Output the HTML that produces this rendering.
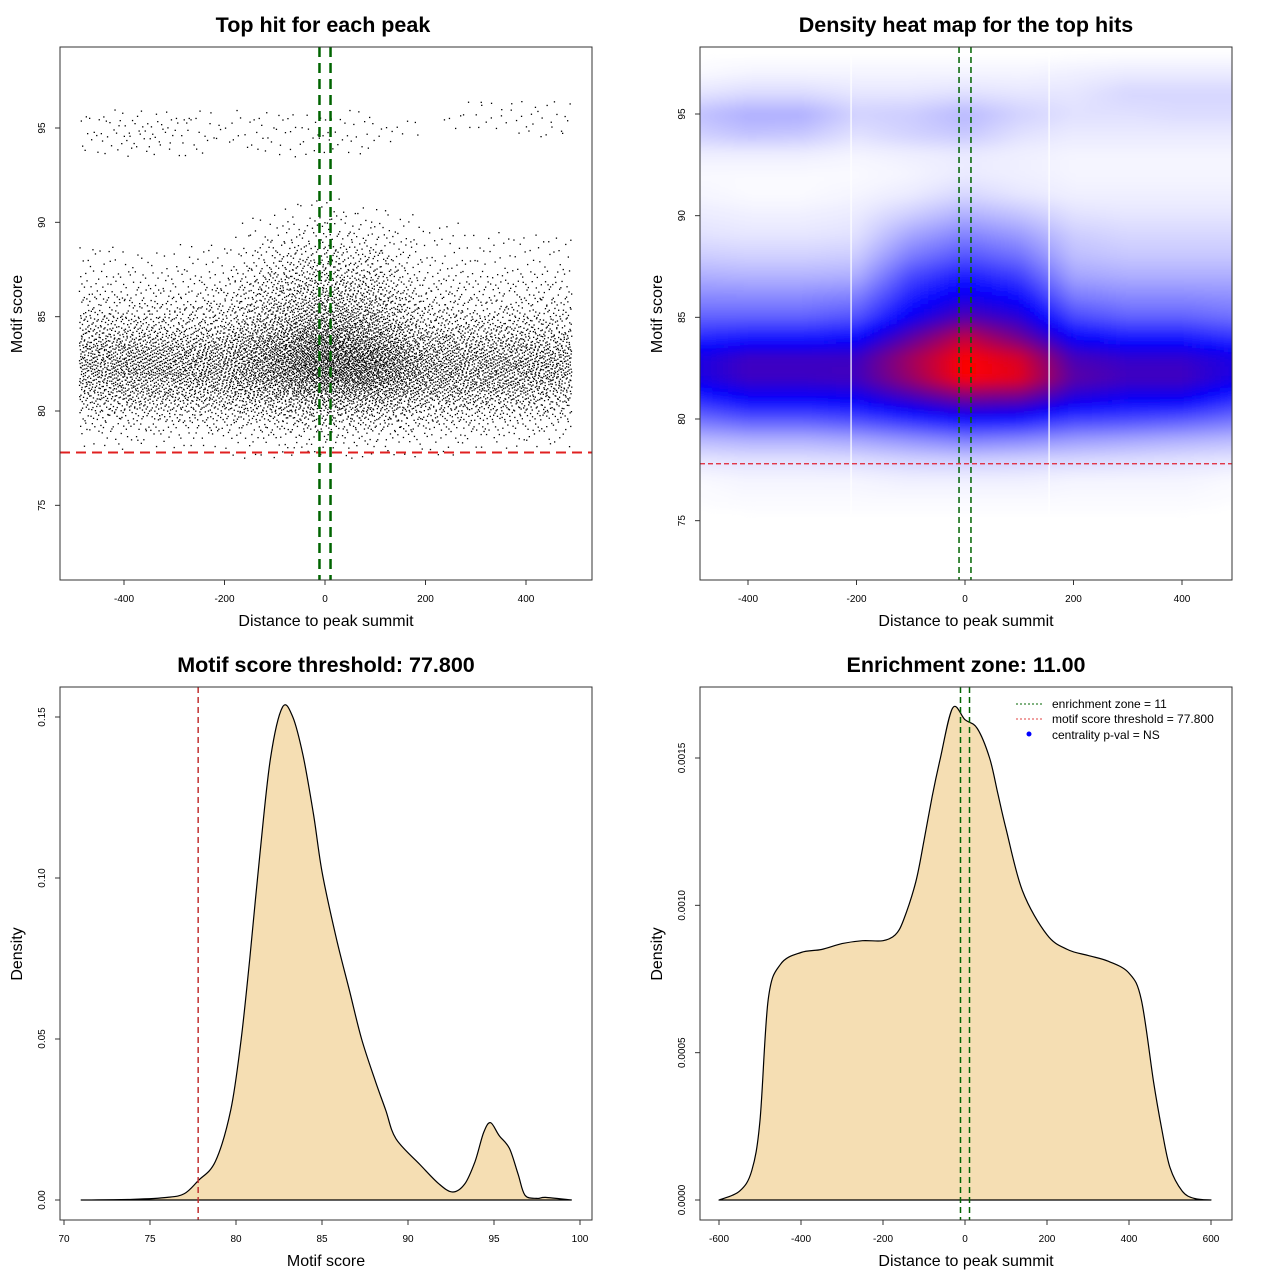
<!DOCTYPE html>
<html><head><meta charset="utf-8"><style>
body{margin:0;background:#fff}
svg text{font-family:"Liberation Sans",sans-serif}
</style></head><body>
<svg id="s" width="1280" height="1280" viewBox="0 0 1280 1280" xmlns="http://www.w3.org/2000/svg">
<defs><filter id="bl" x="-5%" y="-5%" width="110%" height="110%"><feGaussianBlur stdDeviation="5"/></filter>
<clipPath id="c2"><rect x="700" y="47" width="532" height="533"/></clipPath></defs>
</svg>
<script>
// ---- data ----
const gridX = [-500,-400,-300,-200,-100,0,100,200,300,400,500];
const gridY = [98,97,96,95,94,93,92,91,90,89,88,87,86,85,84,83,82,81,80,79,78,77,76,75,74,73,72];
const densityGrid = [
[0,0,0,0,0,0,0,0,0,0,0],
[.01,.02,.02,.02,.02,.02,.02,.03,.04,.04,.04],
[.05,.07,.07,.05,.05,.06,.05,.05,.08,.08,.08],
[.12,.16,.16,.09,.1,.14,.09,.06,.06,.07,.07],
[.09,.12,.11,.06,.09,.11,.06,.04,.04,.04,.04],
[.03,.03,.03,.02,.03,.04,.03,.02,.02,.02,.02],
[.01,.01,.01,.01,.02,.04,.03,.02,.02,.02,.02],
[.02,.01,.01,.02,.04,.08,.05,.03,.03,.03,.03],
[.04,.03,.03,.04,.1,.16,.12,.06,.05,.05,.05],
[.06,.05,.05,.06,.18,.25,.2,.1,.08,.08,.08],
[.1,.09,.09,.1,.26,.34,.28,.13,.11,.11,.11],
[.16,.15,.15,.16,.36,.45,.38,.18,.16,.16,.16],
[.23,.23,.23,.25,.44,.54,.48,.26,.23,.23,.22],
[.31,.31,.31,.34,.52,.66,.58,.36,.31,.31,.28],
[.42,.45,.45,.48,.68,.88,.72,.5,.45,.45,.4],
[.55,.62,.62,.62,.82,1.0,.92,.64,.6,.6,.55],
[.55,.62,.62,.63,.8,1.0,.95,.68,.63,.63,.55],
[.42,.5,.5,.52,.62,.72,.7,.56,.52,.52,.42],
[.28,.33,.33,.36,.42,.48,.46,.38,.36,.33,.28],
[.14,.16,.16,.18,.22,.26,.24,.2,.18,.16,.14],
[.05,.06,.06,.07,.09,.1,.09,.08,.07,.06,.05],
[.01,.02,.02,.02,.03,.03,.03,.02,.02,.02,.01],
[.005,.01,.01,.01,.01,.01,.01,.01,.01,.01,.005],
[0,0,0,0,0,0,0,0,0,0,0],
[0,0,0,0,0,0,0,0,0,0,0],
[0,0,0,0,0,0,0,0,0,0,0],
[0,0,0,0,0,0,0,0,0,0,0]];
const scoreX = [71,74,76,77,77.8,78.8,79.7,80.3,80.8,81.4,82,82.7,83.3,83.9,84.5,85,85.8,86.6,87.3,88.1,88.7,89.3,90.7,91.8,92.6,93.3,93.9,94.4,94.8,95.3,95.9,96.4,96.8,97.5,98,99.5];
const scoreD = [0,0.0002,0.0008,0.002,0.006,0.012,0.028,0.05,0.075,0.108,0.137,0.153,0.15,0.138,0.12,0.102,0.082,0.065,0.05,0.037,0.028,0.019,0.011,0.005,0.0025,0.005,0.012,0.021,0.024,0.02,0.016,0.008,0.0015,0.0005,0.0008,0];
const distX = [-600,-550,-520,-500,-480,-450,-400,-350,-300,-250,-200,-170,-150,-120,-100,-80,-60,-30,0,30,60,80,100,140,200,250,300,350,400,430,460,480,500,530,560,600];
const distD = [0,0.00003,0.0001,0.00027,0.00068,0.0008,0.00084,0.00085,0.00087,0.00088,0.00088,0.0009,0.00095,0.00108,0.00122,0.00137,0.0015,0.00167,0.00163,0.0016,0.0015,0.00138,0.00126,0.00105,0.0009,0.00085,0.00083,0.00081,0.00077,0.00068,0.0004,0.00024,0.00011,0.00003,0.000005,0];
const threshold = 77.8, zone = 11;
const ticks1X=[-400,-200,0,200,400], ticks1Y=[75,80,85,90,95];
const ticks3X=[70,75,80,85,90,95,100], ticks3Y=[0,0.05,0.10,0.15], ticks3YL=["0.00","0.05","0.10","0.15"];
const ticks4X=[-600,-400,-200,0,200,400,600], ticks4Y=[0,0.0005,0.001,0.0015], ticks4YL=["0.0000","0.0005","0.0010","0.0015"];

// ---- helpers ----
const S=document.getElementById('s'), NS='http://www.w3.org/2000/svg';
function mk(t,a,p){const e=document.createElementNS(NS,t);for(const k in a)e.setAttribute(k,a[k]);(p||S).appendChild(e);return e;}
function lin(d0,d1,r0,r1){return v=>r0+(v-d0)*(r1-r0)/(d1-d0);}
function dens(x,y){
  let ci=(x-gridX[0])/100, ri=(gridY[0]-y);
  ci=Math.max(0,Math.min(gridX.length-1.0001,ci)); ri=Math.max(0,Math.min(gridY.length-1.0001,ri));
  const c=Math.floor(ci),r=Math.floor(ri),fx=ci-c,fy=ri-r,g=densityGrid;
  return g[r][c]*(1-fx)*(1-fy)+g[r][c+1]*fx*(1-fy)+g[r+1][c]*(1-fx)*fy+g[r+1][c+1]*fx*fy;
}
function halton(i,b){let f=1,r=0;while(i>0){f/=b;r+=f*(i%b);i=Math.floor(i/b);}return r;}
function smooth(pts){let d='M'+pts[0][0].toFixed(1)+','+pts[0][1].toFixed(1);
  for(let i=0;i<pts.length-1;i++){const p0=pts[Math.max(0,i-1)],p1=pts[i],p2=pts[i+1],p3=pts[Math.min(pts.length-1,i+2)];
    const c1=[p1[0]+(p2[0]-p0[0])/6,p1[1]+(p2[1]-p0[1])/6],c2=[p2[0]-(p3[0]-p1[0])/6,p2[1]-(p3[1]-p1[1])/6];
    d+=` C${c1[0].toFixed(1)},${c1[1].toFixed(1)} ${c2[0].toFixed(1)},${c2[1].toFixed(1)} ${p2[0].toFixed(1)},${p2[1].toFixed(1)}`;}
  return d;}
function frame(x,y,w,h,name){const r=mk('rect',{x:x,y:y,width:w,height:h,fill:'none',stroke:'#333','stroke-width':1});}
function txt(x,y,s,size,opts){const t=mk('text',Object.assign({x:x,y:y,'font-size':size,'text-anchor':'middle',fill:'#000'},opts||{}));t.textContent=s;return t;}
function axes(X,Y,x0,y0,x1,y1,tx,ty,tyl,name){
  const g=mk('g',{});
  tx.forEach(v=>{mk('line',{x1:X(v),x2:X(v),y1:y1,y2:y1+5,stroke:'#333'},g);const t=txt(X(v),y1+22,String(v),10);g.appendChild(t);});
  ty.forEach((v,i)=>{mk('line',{x1:x0-5,x2:x0,y1:Y(v),y2:Y(v),stroke:'#333'},g);const t=txt(0,0,tyl?tyl[i]:String(v),10,{transform:`translate(${x0-15},${Y(v)}) rotate(-90)`});g.appendChild(t);});
}
function title(x,y,s,n){const t=txt(x,y,s,21.5,{'font-weight':'bold'});}
function lab(x,y,s,n,rot){const t=txt(rot?0:x,rot?0:y,s,16,rot?{transform:`translate(${x},${y}) rotate(-90)`}:{});}

// ---- Panel 1: scatter ----
{
const X=lin(0,400,325,526), Y=lin(95,80,128,411);
const g=mk('g',{fill:'#000'});
let idx=1;
for(let xi=-490;xi<490;xi+=20){for(let yi=72;yi<98.5;yi+=0.5){
  const d=dens(xi+10,yi+0.25); const n=Math.round(34*Math.pow(d,1.5));
  for(let k=0;k<n;k++){const px=xi+20*halton(idx,2),py=yi+0.5*halton(idx,3);idx++;
    mk('rect',{x:X(px).toFixed(1),y:Y(py).toFixed(1),width:1.3,height:1.3},g);}
}}
mk('line',{x1:60,x2:592,y1:Y(threshold),y2:Y(threshold),stroke:'#e02020','stroke-width':2,'stroke-dasharray':'10 6'});
[-zone,zone].forEach(v=>{const l=mk('line',{x1:X(v),x2:X(v),y1:47,y2:580,stroke:'#006400','stroke-width':2.5,'stroke-dasharray':'10 6'});});
frame(60,47,532,533,'scatter-plot-frame');
axes(X,Y,60,47,592,580,ticks1X,ticks1Y,null,'scatter');
title(323,32,'Top hit for each peak','scatter-title');
lab(326,626,'Distance to peak summit','scatter-x-title');
lab(22,314,'Motif score','scatter-y-title',true);
}
// ---- Panel 2: heatmap ----
{
const X=lin(0,400,965,1182), Y=lin(95,80,114,419);
const gc=mk('g',{'clip-path':'url(#c2)'});
const g=mk('g',{filter:'url(#bl)'},gc);
const cell=4;
for(let px=680;px<1252;px+=cell){for(let py=30;py<600;py+=cell){
  const ux=(px+cell/2-965)/0.5425, uy=95-(py+cell/2-114)/20.33;
  const t=Math.min(1,dens(ux,uy)); let r,gg,b;
  if(t<0.5){const f=t*2;r=gg=Math.round(255*(1-f));b=255;}else{const f=(t-0.5)*2;r=Math.round(255*f);gg=0;b=Math.round(255*(1-f));}
  if(t<0.004)continue;
  mk('rect',{x:px,y:py,width:cell+0.5,height:cell+0.5,fill:`rgb(${r},${gg},${b})`},g);
}}
[-210,155].forEach(v=>mk('line',{x1:X(v),x2:X(v),y1:47,y2:580,stroke:'#fff','stroke-width':1.2},gc));
mk('line',{x1:700,x2:1232,y1:Y(threshold),y2:Y(threshold),stroke:'#e02030','stroke-width':1.3,'stroke-dasharray':'5 3'});
[-zone,zone].forEach(v=>{const l=mk('line',{x1:X(v),x2:X(v),y1:47,y2:580,stroke:'#006400','stroke-width':1.5,'stroke-dasharray':'6 4'});});
frame(700,47,532,533,'heatmap-frame');
axes(X,Y,700,47,1232,580,ticks1X,ticks1Y,null,'heatmap');
title(966,32,'Density heat map for the top hits','heatmap-title');
lab(966,626,'Distance to peak summit','heatmap-x-title');
lab(662,314,'Motif score','heatmap-y-title',true);
}
// ---- Panel 3: score density ----
{
const X=lin(70,100,64,580), Y=lin(0,0.15,1200,717);
const pts=scoreX.map((v,i)=>[X(v),Y(scoreD[i])]);
const d=smooth(pts)+'Z';
const p=mk('path',{d:d,fill:'#f5deb3',stroke:'#000','stroke-width':1.2,'stroke-linejoin':'round'});
mk('line',{x1:X(threshold),x2:X(threshold),y1:687,y2:1220,stroke:'#c03030','stroke-width':1.5,'stroke-dasharray':'6 4'});
frame(60,687,532,533,'score-density-frame');
axes(X,Y,60,687,592,1220,ticks3X,ticks3Y,ticks3YL,'score-density');
title(326,672,'Motif score threshold: 77.800','score-density-title');
lab(326,1266,'Motif score','score-density-x-title');
lab(22,954,'Density','score-density-y-title',true);
}
// ---- Panel 4: distance density ----
{
const X=lin(0,400,965,1129), Y=lin(0,0.0015,1200,758);
const pts=distX.map((v,i)=>[X(v),Y(distD[i])]);
const d=smooth(pts)+'Z';
const p=mk('path',{d:d,fill:'#f5deb3',stroke:'#000','stroke-width':1.2,'stroke-linejoin':'round'});
[-zone,zone].forEach(v=>{const l=mk('line',{x1:X(v),x2:X(v),y1:687,y2:1220,stroke:'#006400','stroke-width':1.5,'stroke-dasharray':'6 4'});});
frame(700,687,532,533,'distance-density-frame');
axes(X,Y,700,687,1232,1220,ticks4X,ticks4Y,ticks4YL,'distance-density');
title(966,672,'Enrichment zone: 11.00','distance-density-title');
lab(966,1266,'Distance to peak summit','distance-density-x-title');
lab(662,954,'Density','distance-density-y-title',true);
const lg=mk('g',{});
mk('line',{x1:1016,x2:1042,y1:704,y2:704,stroke:'#006400','stroke-dasharray':'2 2'},lg);
mk('line',{x1:1016,x2:1042,y1:719,y2:719,stroke:'#e04040','stroke-dasharray':'2 2'},lg);
mk('circle',{cx:1029,cy:734,r:2.5,fill:'#0000ff'},lg);
[['enrichment zone = 11',708],['motif score threshold = 77.800',723],['centrality p-val = NS',739]].forEach(a=>{const t=txt(1052,a[1],a[0],12,{'text-anchor':'start'});lg.appendChild(t);});
}
</script>
</body></html>
